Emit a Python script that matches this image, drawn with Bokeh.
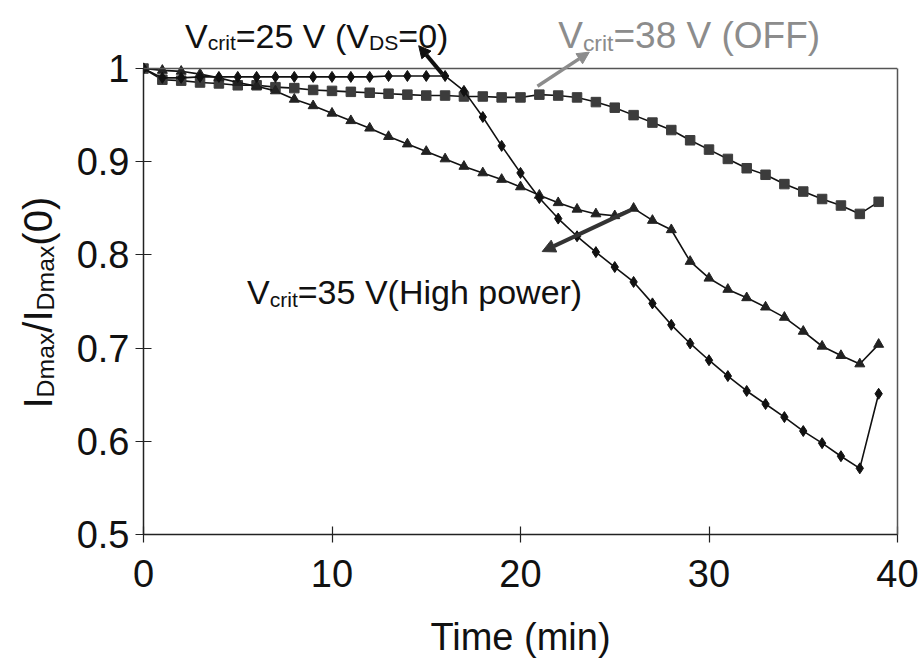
from bokeh.plotting import figure
from bokeh.layouts import row
from bokeh.models import (Range1d, Label, Arrow, NormalHead, FixedTicker, NumeralTickFormatter,
                          ColumnDataSource, LinearAxis, Span)
from bokeh.embed import file_html
from bokeh.resources import INLINE
import math

# ---------------- data ----------------
time_min = list(range(40))

# V_crit = 25 V (V_DS = 0)  -- diamonds
i_ratio_25v = [1.000, 0.990, 0.990, 0.991, 0.991, 0.991, 0.991, 0.991, 0.991, 0.991,
               0.991, 0.991, 0.991, 0.992, 0.992, 0.992, 0.992, 0.976, 0.948, 0.917,
               0.888, 0.861, 0.839, 0.820, 0.803, 0.787, 0.771, 0.748, 0.725, 0.705,
               0.687, 0.670, 0.654, 0.640, 0.626, 0.611, 0.598, 0.584, 0.571, 0.651]

# V_crit = 38 V (OFF)  -- squares
i_ratio_38v = [1.000, 0.988, 0.987, 0.985, 0.984, 0.982, 0.982, 0.980, 0.979, 0.977,
               0.976, 0.975, 0.974, 0.973, 0.972, 0.971, 0.971, 0.970, 0.970, 0.969,
               0.969, 0.972, 0.971, 0.969, 0.964, 0.958, 0.950, 0.942, 0.934, 0.923,
               0.913, 0.903, 0.893, 0.886, 0.876, 0.868, 0.860, 0.853, 0.844, 0.857]

# V_crit = 35 V (High power)  -- triangles
i_ratio_35v = [1.000, 0.998, 0.997, 0.994, 0.990, 0.985, 0.981, 0.976, 0.967, 0.960,
               0.952, 0.944, 0.936, 0.927, 0.919, 0.911, 0.903, 0.895, 0.888, 0.881,
               0.873, 0.864, 0.856, 0.849, 0.844, 0.842, 0.850, 0.837, 0.827, 0.793,
               0.775, 0.763, 0.754, 0.744, 0.733, 0.718, 0.702, 0.692, 0.683, 0.704]

x_ticks = [0, 10, 20, 30, 40]
y_ticks = [0.5, 0.6, 0.7, 0.8, 0.9, 1.0]

FONT = "Liberation Sans"
INK = "#111111"
GRAY = "#8c8c8c"
FRAME = "#555555"

# ---------------- main figure ----------------
# the frame reaches the top of the canvas so the annotations above y=1 stay visible
p = figure(width=854, height=666, x_range=Range1d(0, 40), y_range=Range1d(0.5, 1.073),
           output_backend="svg", toolbar_location=None,
           min_border_left=73, min_border_right=27, min_border_top=0, min_border_bottom=132)
p.title.visible = False
p.background_fill_color = "white"
p.border_fill_color = "white"
p.outline_line_color = None
p.xgrid.visible = False
p.ygrid.visible = False

for ax in (p.xaxis[0], p.yaxis[0]):
    ax.axis_line_color = "#222222"
    ax.axis_line_width = 1.5
    ax.major_tick_line_color = "#222222"
    ax.major_tick_line_width = 1.2
    ax.major_tick_in = 8
    ax.major_tick_out = 8
    ax.minor_tick_in = 0
    ax.minor_tick_out = 0
    ax.major_label_text_font = FONT
    ax.major_label_text_font_size = "38px"
    ax.major_label_text_color = INK

p.xaxis.ticker = FixedTicker(ticks=x_ticks)
p.yaxis.ticker = FixedTicker(ticks=y_ticks)
p.yaxis.bounds = (0.5, 1.0)
p.yaxis.formatter = NumeralTickFormatter(format="0.[0]")
p.xaxis.major_label_standoff = 17
p.yaxis.major_label_standoff = 6
p.xaxis.axis_label = "Time (min)"
p.xaxis.axis_label_text_font = FONT
p.xaxis.axis_label_text_font_style = "normal"
p.xaxis.axis_label_text_font_size = "38px"
p.xaxis.axis_label_text_color = INK
p.xaxis.axis_label_standoff = 26

# right and top edges of the plot box
right_edge = LinearAxis(bounds=(0.5, 1.0), ticker=FixedTicker(ticks=[]),
                        major_label_text_font_size="0px", axis_line_color=FRAME,
                        axis_line_width=1.5, major_tick_in=0, major_tick_out=0,
                        minor_tick_in=0, minor_tick_out=0)
p.add_layout(right_edge, "right")
p.add_layout(Span(location=1.0, dimension="width", line_color=FRAME, line_width=1.5))

src = ColumnDataSource(dict(t=time_min, a=i_ratio_25v, b=i_ratio_38v, c=i_ratio_35v))

p.line("t", "b", source=src, line_color=INK, line_width=1.6)
p.scatter("t", "b", source=src, marker="square", size=9.5, fill_color="#3c3c3c", line_color="#3c3c3c")
p.line("t", "c", source=src, line_color=INK, line_width=1.6)
p.scatter("t", "c", source=src, marker="triangle", size=10, fill_color="#222222", line_color="#222222")
p.line("t", "a", source=src, line_color=INK, line_width=1.6)
p.scatter("t", "a", source=src, marker="diamond", size=11, fill_color=INK, line_color=INK)

# ---------------- rich text helper ----------------
W = {' ': .278, '=': .584, '0': .556, '1': .556, '2': .556, '3': .556, '4': .556, '5': .556,
     '6': .556, '7': .556, '8': .556, '9': .556, 'V': .667, 'c': .5, 'r': .333, 'i': .222,
     't': .278, '(': .333, ')': .333, 'D': .722, 'S': .667, 'O': .778, 'F': .611, 'H': .722,
     'g': .556, 'h': .556, 'p': .556, 'o': .556, 'w': .722, 'e': .556, 'I': .278, 'm': .833,
     'a': .556, 'x': .5, '/': .278}


def tw(s):
    return sum(W.get(ch, .556) for ch in s)


def rich(fig, x, y, parts, size, color, rotated=False, sub_scale=0.62):
    adv = 0.0
    for txt, sub in parts:
        fs = size * sub_scale if sub else size
        drop = 0.21 * size if sub else 0.0
        if rotated:
            xo, yo, ang = drop, adv, math.pi / 2
        else:
            xo, yo, ang = adv, -drop, 0.0
        fig.add_layout(Label(x=x, y=y, x_offset=xo, y_offset=yo, text=txt, angle=ang,
                             text_font=FONT, text_font_size=f"{fs:.1f}px", text_color=color,
                             text_baseline="alphabetic", text_align="left"))
        adv += tw(txt) * fs


# annotation texts
rich(p, 2.2, 1.0354, [("V", False), ("crit", True), ("=25 V (V", False), ("DS", True), ("=0)", False)], 34, INK)
rich(p, 22.0, 1.0354, [("V", False), ("crit", True), ("=38 V (OFF)", False)], 37, GRAY)
rich(p, 5.49, 0.760, [("V", False), ("crit", True), ("=35 V(High power)", False)], 34, INK)

# arrows
p.add_layout(Arrow(x_start=15.86, y_start=0.994, x_end=14.6, y_end=1.0245,
                   line_color=INK, line_width=4,
                   end=NormalHead(size=12, fill_color=INK, line_color=INK)))
p.add_layout(Arrow(x_start=20.9, y_start=0.981, x_end=23.65, y_end=1.0176,
                   line_color=GRAY, line_width=3.5,
                   end=NormalHead(size=12, fill_color=GRAY, line_color=GRAY)))
p.add_layout(Arrow(x_start=25.84, y_start=0.848, x_end=21.15, y_end=0.8036,
                   line_color="#333333", line_width=4,
                   end=NormalHead(size=13, fill_color="#333333", line_color="#333333")))

# ---------------- y-axis title panel (rotated text with subscripts) ----------------
# its frame is given the same bottom border as the main plot, 1 unit = 1 px,
# y measured upward from the bottom of the canvas
lab = figure(width=70, height=666, x_range=Range1d(0, 70), y_range=Range1d(132, 666),
             output_backend="svg", toolbar_location=None,
             min_border_left=0, min_border_right=0, min_border_top=0, min_border_bottom=132,
             x_axis_location=None, y_axis_location=None)
lab.title.visible = False
lab.outline_line_color = None
lab.xgrid.visible = False
lab.ygrid.visible = False
lab.background_fill_color = "white"
lab.border_fill_color = "white"
rich(lab, 37, 258, [("I", False), ("Dmax", True), ("/I", False), ("Dmax", True), ("(0)", False)], 40,
     INK, rotated=True, sub_scale=0.62)

layout = row(lab, p, spacing=0)
open("out.html", "w").write(file_html(layout, INLINE))
